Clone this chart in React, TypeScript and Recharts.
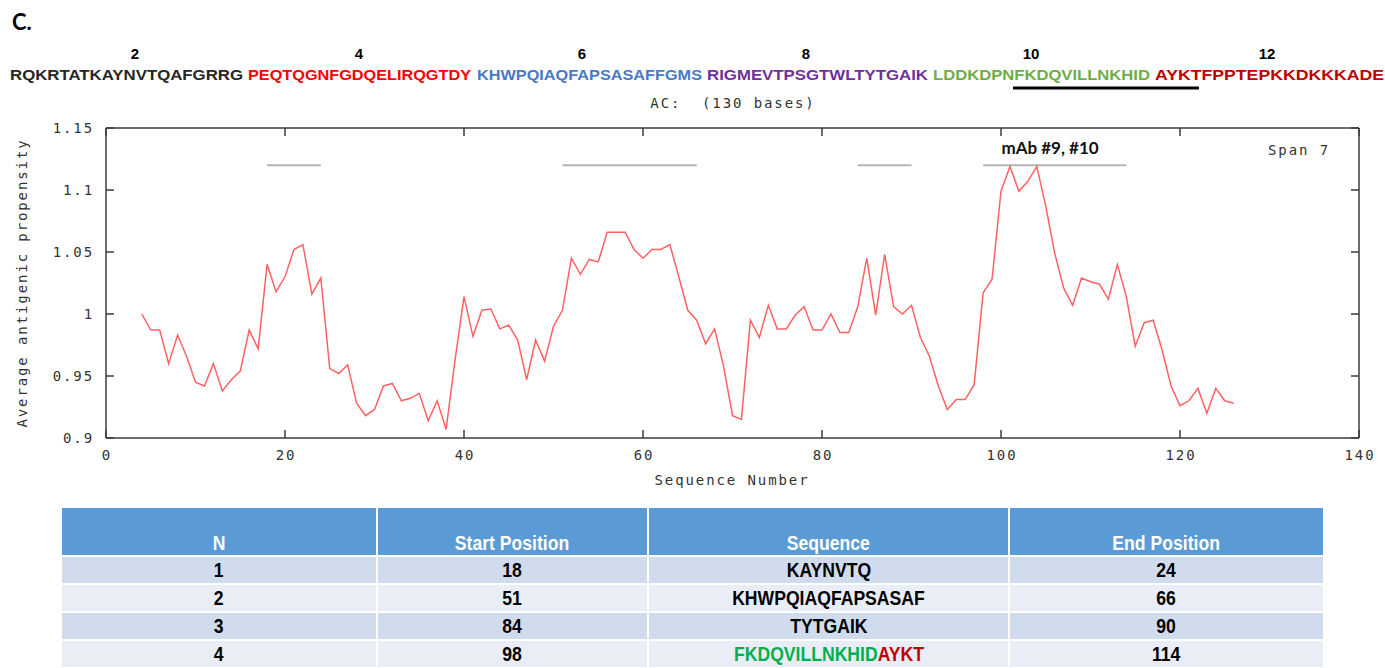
import React from 'react';
import { LineChart, Line, XAxis, YAxis, ReferenceLine } from 'recharts';

// ---------- data ----------
const sequenceNumbers = [
  4, 5, 6, 7, 8, 9, 10, 11, 12, 13, 14, 15, 16, 17, 18, 19, 20, 21, 22, 23, 24, 25, 26, 27, 28, 29, 30,
  31, 32, 33, 34, 35, 36, 37, 38, 39, 40, 41, 42, 43, 44, 45, 46, 47, 48, 49, 50, 51, 52, 53, 54, 55,
  56, 57, 58, 59, 60, 61, 62, 63, 64, 65, 66, 67, 68, 69, 70, 71, 72, 73, 74, 75, 76, 77, 78, 79, 80,
  81, 82, 83, 84, 85, 86, 87, 88, 89, 90, 91, 92, 93, 94, 95, 96, 97, 98, 99, 100, 101, 102, 103, 104,
  105, 106, 107, 108, 109, 110, 111, 112, 113, 114, 115, 116, 117, 118, 119, 120, 121, 122, 123, 124,
  125, 126,
];
const propensity = [
  1.0, 0.987, 0.987, 0.96, 0.983, 0.966, 0.945, 0.942, 0.96, 0.938, 0.947, 0.954, 0.987, 0.972, 1.04,
  1.018, 1.03, 1.052, 1.056, 1.016, 1.029, 0.956, 0.952, 0.959, 0.928, 0.918, 0.923, 0.942, 0.944,
  0.93, 0.932, 0.936, 0.914, 0.93, 0.907, 0.963, 1.014, 0.982, 1.003, 1.004, 0.988, 0.991, 0.979,
  0.947, 0.979, 0.962, 0.99, 1.003, 1.045, 1.032, 1.044, 1.042, 1.066, 1.066, 1.066, 1.052, 1.045,
  1.052, 1.052, 1.056, 1.03, 1.003, 0.995, 0.976, 0.988, 0.958, 0.918, 0.915, 0.995, 0.981, 1.007,
  0.988, 0.988, 0.999, 1.006, 0.987, 0.987, 1.0, 0.985, 0.985, 1.006, 1.045, 0.999, 1.048, 1.006,
  1.0, 1.007, 0.981, 0.966, 0.942, 0.923, 0.931, 0.931, 0.943, 1.017, 1.028, 1.099, 1.119, 1.099,
  1.107, 1.119, 1.087, 1.049, 1.021, 1.007, 1.029, 1.026, 1.024, 1.012, 1.04, 1.014, 0.974, 0.993,
  0.995, 0.971, 0.942, 0.926, 0.93, 0.94, 0.92, 0.94, 0.93, 0.928,
];
const xTicks = [0, 20, 40, 60, 80, 100, 120, 140];
const yTicks = [0.9, 0.95, 1, 1.05, 1.1, 1.15];
const yTickLabels = ['0.9', '0.95', '1', '1.05', '1.1', '1.15'];

const epitopeN = [1, 2, 3, 4];
const epitopeStart = [18, 51, 84, 98];
const epitopeEnd = [24, 66, 90, 114];
const epitopeSeq = ['KAYNVTQ', 'KHWPQIAQFAPSASAF', 'TYTGAIK', 'FKDQVILLNKHIDAYKT'];
const thresholdLevel = 1.12;

const seqSegments = [
  'RQKRTATKAYNVTQAFGRRG',
  'PEQTQGNFGDQELIRQGTDY',
  'KHWPQIAQFAPSASAFFGMS',
  'RIGMEVTPSGTWLTYTGAIK',
  'LDDKDPNFKDQVILLNKHID',
  'AYKTFPPTEPKKDKKKADE',
];
const residueMarks = ['2', '4', '6', '8', '10', '12'];
const tableHeaders = ['N', 'Start Position', 'Sequence', 'End Position'];

// ---------- styling / layout ----------
const segColors = ['#262626', '#ff0000', '#4a78c8', '#7030a0', '#70ad47', '#c00000'];
const segX = [10, 248, 477, 707, 933, 1155];
const segW = [233, 223, 225, 221, 217, 229];
const markX = [135, 359, 582, 806, 1031, 1267];

const MONO = "'DejaVu Sans Mono', 'Liberation Mono', monospace";
const AXIS = '#3c3c3c';
const TXT = '#333333';

const chartData = sequenceNumbers.map((x, i) => ({ x, y: propensity[i] }));

const monoText = { fontFamily: MONO, fontSize: 14, letterSpacing: 1.9, fill: TXT } as const;

function LeftTick(props: any) {
  const { x, y, payload } = props;
  const idx = yTicks.indexOf(payload.value);
  return (
    <g>
      <line x1={x} x2={x + 8} y1={y} y2={y} stroke={AXIS} strokeWidth={1.5} />
      <text x={x - 12} y={y + 5} textAnchor="end" style={monoText}>
        {yTickLabels[idx]}
      </text>
    </g>
  );
}
function RightTick(props: any) {
  const { x, y } = props;
  return <line x1={x} x2={x - 8} y1={y} y2={y} stroke={AXIS} strokeWidth={1.5} />;
}
function BottomTick(props: any) {
  const { x, y, payload } = props;
  return (
    <g>
      <line x1={x} x2={x} y1={y} y2={y - 8} stroke={AXIS} strokeWidth={1.5} />
      <text x={x + 1} y={y + 22} textAnchor="middle" style={monoText}>
        {String(payload.value)}
      </text>
    </g>
  );
}
function TopTick(props: any) {
  const { x, y } = props;
  return <line x1={x} x2={x} y1={y} y2={y + 8} stroke={AXIS} strokeWidth={1.5} />;
}

function Narrow({ children }: { children: React.ReactNode }) {
  return (
    <span style={{ display: 'inline-block', transform: 'scaleX(0.88)', whiteSpace: 'nowrap' }}>
      {children}
    </span>
  );
}

export default function App() {
  return (
    <div style={{ position: 'absolute', left: 0, top: 0, width: 1385, height: 668, background: '#fff', overflow: 'hidden' }}>
      {/* header: panel letter + colored sequence */}
      <svg width={1385} height={120} style={{ position: 'absolute', left: 0, top: 0 }}>
        <text x={12} y={30} style={{ fontFamily: 'Lato, sans-serif', fontWeight: 700, fontSize: 22, fill: '#000' }}>
          C.
        </text>
        {residueMarks.map((m, i) => (
          <text key={m} x={markX[i]} y={59} textAnchor="middle"
            style={{ fontFamily: "'Liberation Sans', Arial, sans-serif", fontWeight: 700, fontSize: 15, fill: '#000' }}>
            {m}
          </text>
        ))}
        {seqSegments.map((s, i) => (
          <text key={s} x={segX[i]} y={80} textLength={segW[i]} lengthAdjust="spacingAndGlyphs"
            style={{ fontFamily: "'Liberation Sans', Arial, sans-serif", fontWeight: 700, fontSize: 15, fill: segColors[i] }}>
            {s}
          </text>
        ))}
        <line x1={1013} x2={1199} y1={88} y2={88} stroke="#000" strokeWidth={3} />
        <text x={733} y={108} textAnchor="middle" style={{ ...monoText, whiteSpace: 'pre' }}>
          {'AC:  (130 bases)'}
        </text>
      </svg>

      {/* chart */}
      <div style={{ position: 'absolute', left: 0, top: 0 }}>
        <LineChart width={1385} height={500} data={chartData}
          margin={{ top: 118, right: 16, bottom: 32, left: 46 }}>
          <XAxis dataKey="x" type="number" domain={[0, 140]} ticks={xTicks} interval={0}
            height={30} tickSize={0} tickMargin={0} tick={<BottomTick />}
            axisLine={{ stroke: AXIS, strokeWidth: 1.5 }} tickLine={false} allowDataOverflow />
          <XAxis xAxisId="top" orientation="top" dataKey="x" type="number" domain={[0, 140]} ticks={xTicks}
            interval={0} height={10} tickSize={0} tickMargin={0} tick={<TopTick />}
            axisLine={{ stroke: AXIS, strokeWidth: 1.5 }} tickLine={false} allowDataOverflow />
          <YAxis type="number" domain={[0.9, 1.15]} ticks={yTicks} interval={0} width={60}
            tickSize={0} tickMargin={0} tick={<LeftTick />}
            axisLine={{ stroke: AXIS, strokeWidth: 1.5 }} tickLine={false} allowDataOverflow />
          <YAxis yAxisId="right" orientation="right" type="number" domain={[0.9, 1.15]} ticks={yTicks}
            interval={0} width={10} tickSize={0} tickMargin={0} tick={<RightTick />}
            axisLine={{ stroke: AXIS, strokeWidth: 1.5 }} tickLine={false} allowDataOverflow />
          {epitopeStart.map((s, i) => (
            <ReferenceLine key={s}
              segment={[{ x: s, y: thresholdLevel }, { x: epitopeEnd[i], y: thresholdLevel }]}
              stroke="#b4b4b4" strokeWidth={2} />
          ))}
          <Line type="linear" dataKey="y" stroke="#ff6262" strokeWidth={1.5} dot={false}
            isAnimationActive={false} />
        </LineChart>
      </div>

      {/* chart annotations */}
      <svg width={1385} height={500} style={{ position: 'absolute', left: 0, top: 0, pointerEvents: 'none' }}>
        <text x={1050} y={154} textAnchor="middle"
          style={{ fontFamily: 'Lato, sans-serif', fontWeight: 700, fontSize: 17, fill: '#111' }}>
          mAb #9, #10
        </text>
        <text x={1268} y={155} style={monoText}>Span 7</text>
        <text x={732} y={485} textAnchor="middle" style={monoText}>Sequence Number</text>
        <text x={27} y={283} textAnchor="middle" transform="rotate(-90 27 283)" style={monoText}>
          Average antigenic propensity
        </text>
      </svg>

      {/* epitope table */}
      <div style={{
        position: 'absolute', left: 62, top: 508, display: 'grid',
        gridTemplateColumns: '314px 269px 359px 313px', gridTemplateRows: '47px 26px 26px 26px 26px',
        columnGap: 2, rowGap: 2, background: '#fff',
        fontFamily: "'Liberation Sans', Arial, sans-serif",
        fontWeight: 700, fontSize: 20,
      }}>
        {tableHeaders.map((h) => (
          <div key={h} style={{ background: '#5b9bd5', color: '#fff', display: 'flex', alignItems: 'flex-end', justifyContent: 'center', paddingBottom: 1, lineHeight: '22px' }}>
            <Narrow>{h}</Narrow>
          </div>
        ))}
        {epitopeN.map((n, i) => {
          const bg = i % 2 === 0 ? '#d0dcee' : '#e8edf6';
          const cell = { background: bg, color: '#000', display: 'flex', alignItems: 'center', justifyContent: 'center', lineHeight: '22px' } as const;
          const seq = epitopeSeq[i];
          return (
            <React.Fragment key={n}>
              <div style={cell}><Narrow>{n}</Narrow></div>
              <div style={cell}><Narrow>{epitopeStart[i]}</Narrow></div>
              <div style={cell}>
                {n === 4 ? (
                  <Narrow>
                    <span style={{ color: '#00b050' }}>{seq.slice(0, 13)}</span>
                    <span style={{ color: '#c00000' }}>{seq.slice(13)}</span>
                  </Narrow>
                ) : <Narrow>{seq}</Narrow>}
              </div>
              <div style={cell}><Narrow>{epitopeEnd[i]}</Narrow></div>
            </React.Fragment>
          );
        })}
      </div>
    </div>
  );
}
